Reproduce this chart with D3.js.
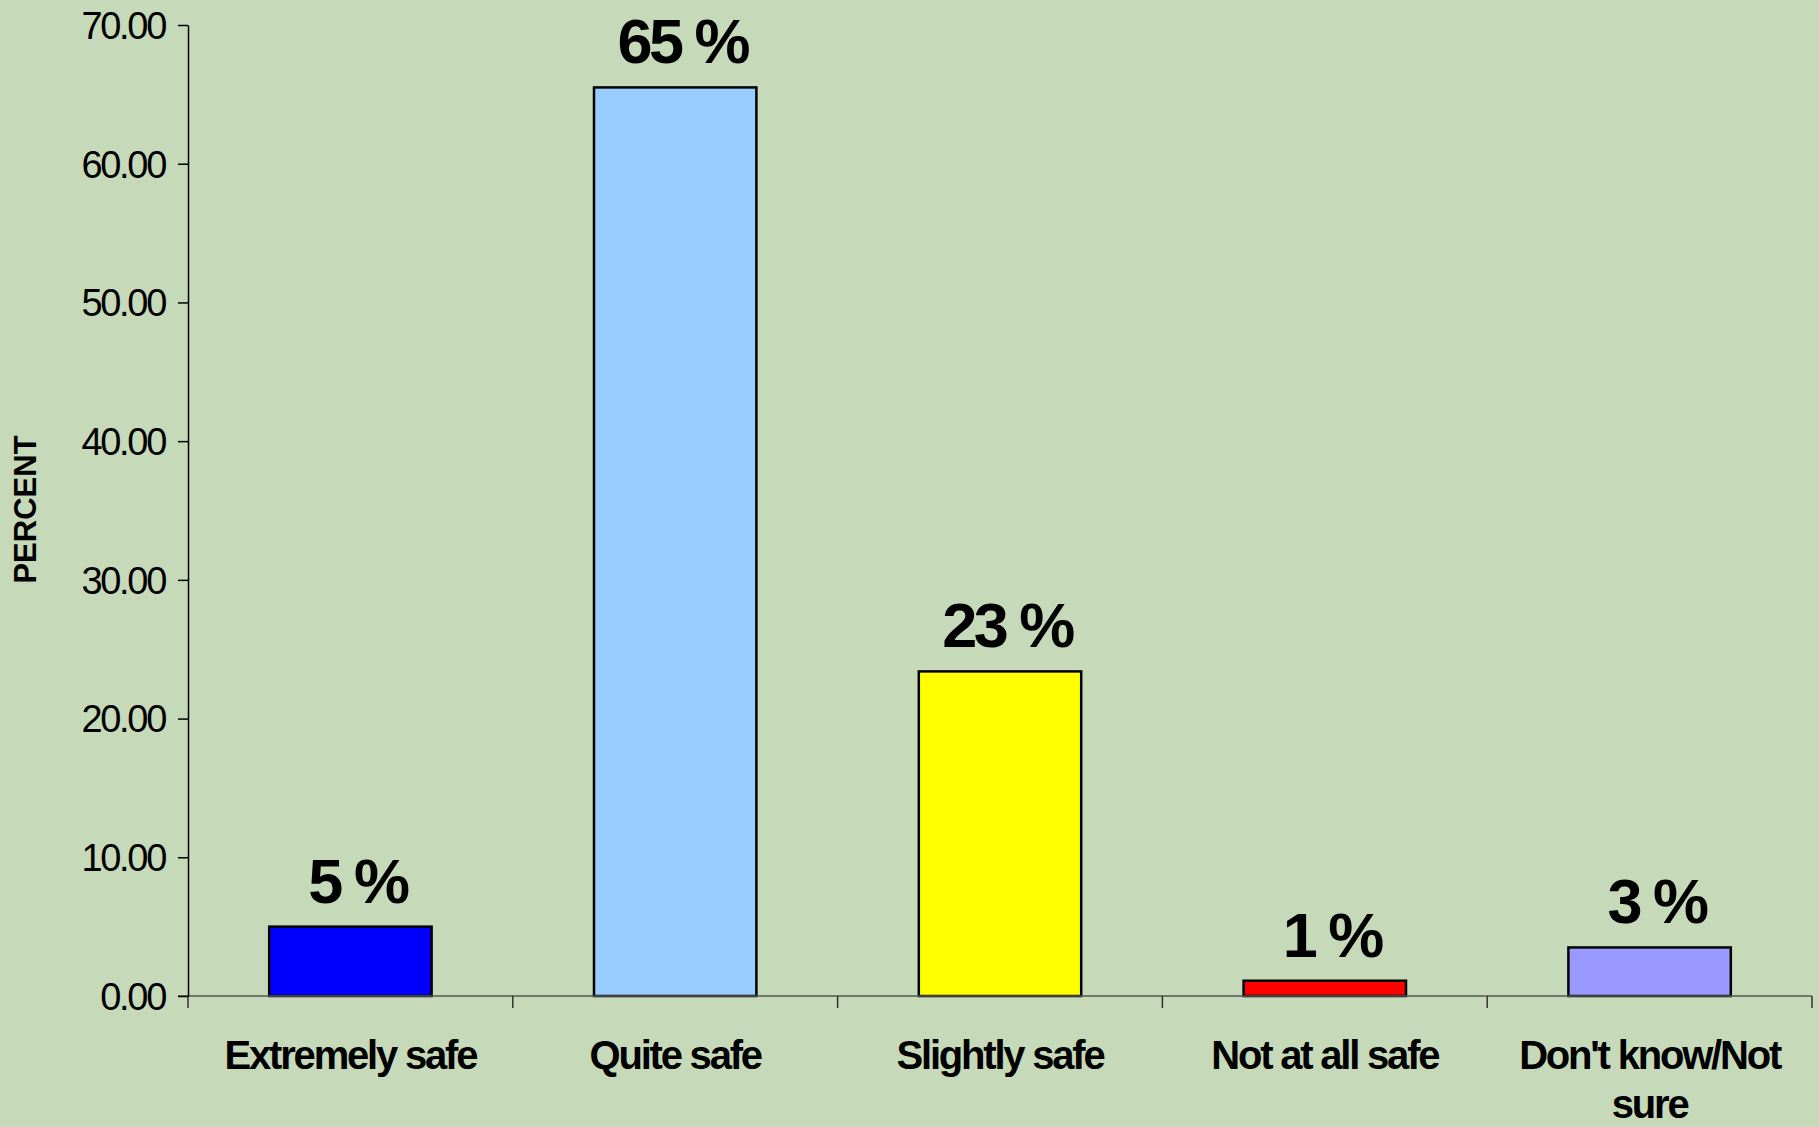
<!DOCTYPE html>
<html>
<head>
<meta charset="utf-8">
<script src="https://cdn.jsdelivr.net/npm/d3@7"></script>
<style>
  html, body { margin: 0; padding: 0; background: #C6D9B9; }
  svg { display: block; }
</style>
</head>
<body>
<svg id="chart" width="1819" height="1127"></svg>
<script>
const categories = ["Extremely safe", "Quite safe", "Slightly safe", "Not at all safe", "Don't know/Not sure"];
const values = [5.0, 65.5, 23.4, 1.1, 3.5];
const valueLabels = ["5 %", "65 %", "23 %", "1 %", "3 %"];
const barColors = ["#0000FF", "#99CCFF", "#FFFF00", "#FF0000", "#9999FF"];
const yTicks = [0, 10, 20, 30, 40, 50, 60, 70];
const yTitle = "PERCENT";

(function () {
const svg = d3.select("#chart");
const W = 1819, H = 1127;
svg.append("rect").attr("width", W).attr("height", H).attr("fill", "#C6D9B9");

const mLeft = 188, mRight = 1812, mTop = 25, mBottom = 996;
const x = d3.scaleBand().domain(categories).range([mLeft, mRight]).padding(0);
const y = d3.scaleLinear().domain([0, 70]).range([mBottom, mTop]);
const font = "'Liberation Sans', Arial, sans-serif";

// bars
const bw = x.bandwidth();
svg.append("g").selectAll("rect").data(categories).join("rect")
  .attr("x", d => x(d) + bw * 0.25)
  .attr("width", bw * 0.5)
  .attr("y", (d, i) => y(values[i]))
  .attr("height", (d, i) => y(0) - y(values[i]))
  .attr("fill", (d, i) => barColors[i])
  .attr("stroke", "#000")
  .attr("stroke-width", 2.5);

// x axis line (grey) with boundary ticks
const xg = svg.append("g");
xg.append("line").attr("x1", mLeft - 10).attr("x2", mRight).attr("y1", y(0)).attr("y2", y(0))
  .attr("stroke", "#555").attr("stroke-width", 1.5);
const bounds = categories.map(c => x(c)).concat([x.range()[1]]);
xg.selectAll("line.tk").data(bounds).join("line").attr("class", "tk")
  .attr("x1", d => d).attr("x2", d => d).attr("y1", y(0)).attr("y2", y(0) + 12)
  .attr("stroke", "#333").attr("stroke-width", 1.5);

// y axis
const yAxis = d3.axisLeft(y).tickValues(yTicks).tickFormat(d3.format(".2f"))
  .tickSize(10).tickSizeOuter(0).tickPadding(13);
const yg = svg.append("g").attr("transform", `translate(${mLeft},0)`).call(yAxis);
yg.select(".domain").attr("stroke", "#000").attr("stroke-width", 1.5);
yg.selectAll(".tick line").attr("stroke", "#000").attr("stroke-width", 1.5);
yg.selectAll(".tick text")
  .attr("font-family", font).attr("font-size", 38).attr("fill", "#000")
  .attr("letter-spacing", "-2.3px").attr("dy", "0.35em");

// y title
svg.append("text")
  .attr("transform", `translate(36,${(mTop + mBottom) / 2 - 1}) rotate(-90)`)
  .attr("text-anchor", "middle")
  .attr("font-family", font).attr("font-weight", "bold").attr("font-size", 31)
  .attr("fill", "#000")
  .text(yTitle);

// value labels
svg.append("g").selectAll("text").data(categories).join("text")
  .attr("x", d => x(d) + bw / 2 + 7)
  .attr("y", (d, i) => y(values[i]) - 24)
  .attr("text-anchor", "middle")
  .attr("font-family", font).attr("font-weight", "bold").attr("font-size", 63)
  .attr("letter-spacing", "-3.5px")
  .attr("fill", "#000")
  .text((d, i) => valueLabels[i]);

// category labels with wrap
const maxW = bw * 0.92;
const cl = svg.append("g").selectAll("text").data(categories).join("text")
  .attr("x", d => x(d) + bw / 2)
  .attr("y", 1069)
  .attr("text-anchor", "middle")
  .attr("font-family", font).attr("font-weight", "bold").attr("font-size", 40)
  .attr("letter-spacing", "-2.2px")
  .attr("fill", "#000");
cl.each(function (d) {
  const t = d3.select(this);
  const words = d.split(" ");
  let line = [], lines = [];
  const tmp = t.append("tspan");
  words.forEach(w => {
    const test = line.concat([w]).join(" ");
    tmp.text(test);
    if (this.getComputedTextLength() > maxW && line.length) {
      lines.push(line.join(" "));
      line = [w];
    } else {
      line.push(w);
    }
  });
  lines.push(line.join(" "));
  tmp.remove();
  const cx = t.attr("x");
  lines.forEach((ln, i) => {
    t.append("tspan").attr("x", cx).attr("dy", i === 0 ? 0 : 49).text(ln);
  });
});
})();
</script>
</body>
</html>
